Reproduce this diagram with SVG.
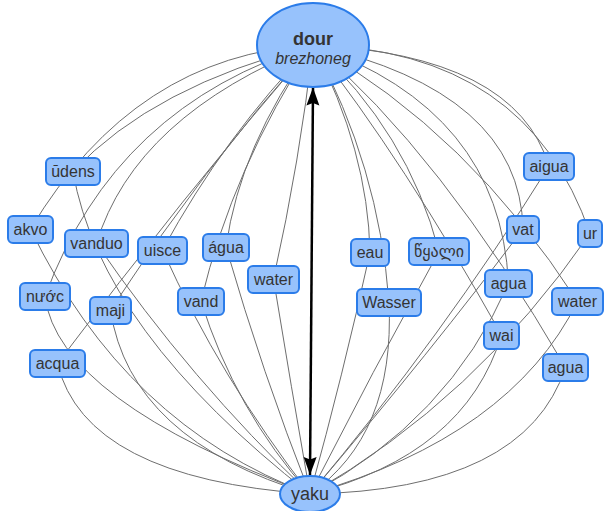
<svg xmlns="http://www.w3.org/2000/svg" width="605" height="511" viewBox="0 0 605 511">
<style>
.e{fill:none;stroke:#6e6e6e;stroke-width:1}
.box{fill:#97C2FC;stroke:#2B7CE9;stroke-width:2}
.t{font-family:"Liberation Sans","DejaVu Sans",Arial,sans-serif;font-size:16px;fill:#343434;text-anchor:middle}
.big{font-size:18px}
</style>
<defs>
<marker id="ah" markerUnits="userSpaceOnUse" viewBox="-19 -7 20 14" refX="0" refY="0" markerWidth="20" markerHeight="14" orient="auto-start-reverse">
<path d="M0,0 L-18,-6.5 L-15.5,0 L-18,6.5 Z" fill="#000"/>
</marker>
</defs>
<rect width="605" height="511" fill="#fff"/>
<g id="connectors">
<path class="e" d="M313,45 Q153,86 73,171.5"/>
<path class="e" d="M313,45 Q135,55 30.5,229"/>
<path class="e" d="M313,45 Q135,116 96.5,243.5"/>
<path class="e" d="M313,45 Q115,105 45,296.5"/>
<path class="e" d="M313,45 Q225,135 162.5,250"/>
<path class="e" d="M313,45 Q200,172 110.5,310"/>
<path class="e" d="M313,45 Q180,200 57.5,363.5"/>
<path class="e" d="M313,45 Q240,146 226,247"/>
<path class="e" d="M313,45 Q233,167 201,301"/>
<path class="e" d="M313,45 Q300,160 273.5,279"/>
<path class="e" d="M313,45 Q368,151 370,252.5"/>
<path class="e" d="M313,45 Q379,166 389,302.5"/>
<path class="e" d="M313,45 Q408,132 439,251.5"/>
<path class="e" d="M313,45 Q515,55 549,166"/>
<path class="e" d="M313,45 Q527,50 590,233.5"/>
<path class="e" d="M313,45 Q520,92 523,229"/>
<path class="e" d="M313,45 Q469,133 577.5,301.5"/>
<path class="e" d="M313,45 Q500,110 508.5,283.5"/>
<path class="e" d="M313,45 Q403,159 501.5,335"/>
<path class="e" d="M313,45 Q440,152 565.5,367.5"/>
<path class="e" d="M73,171.5 Q100,330 310,494"/>
<path class="e" d="M30.5,229 Q125,425 310,494"/>
<path class="e" d="M96.5,243.5 Q190,380 310,494"/>
<path class="e" d="M45,296.5 Q58,400 310,494"/>
<path class="e" d="M162.5,250 Q220,378 310,494"/>
<path class="e" d="M110.5,310 Q130,440 310,494"/>
<path class="e" d="M57.5,363.5 Q85,478 310,494"/>
<path class="e" d="M226,247 Q262,372 310,494"/>
<path class="e" d="M201,301 Q235,410 310,494"/>
<path class="e" d="M273.5,279 Q291,386 310,494"/>
<path class="e" d="M370,252.5 Q343,375 310,494"/>
<path class="e" d="M389,302.5 Q395,435 310,494"/>
<path class="e" d="M439,251.5 Q372,372 310,494"/>
<path class="e" d="M549,166 Q443,336 310,494"/>
<path class="e" d="M590,233.5 Q475,400 310,494"/>
<path class="e" d="M523,229 Q433,349 310,494"/>
<path class="e" d="M577.5,301.5 Q511,436 310,494"/>
<path class="e" d="M508.5,283.5 Q448,421 310,494"/>
<path class="e" d="M501.5,335 Q465,455 310,494"/>
<path class="e" d="M565.5,367.5 Q525,490 310,494"/>
<line x1="313" y1="87.5" x2="310" y2="475" stroke="#000" stroke-width="2.5" marker-start="url(#ah)" marker-end="url(#ah)"/>
</g>
<g id="dour"><ellipse cx="313" cy="45" rx="56" ry="42" class="box"/><text x="313" y="45" class="t big" font-weight="bold">dour</text><text x="313" y="64" class="t" font-style="italic">brezhoneg</text></g>
<g id="yaku"><ellipse cx="310" cy="494" rx="30" ry="18" class="box"/><text x="310" y="500" class="t big">yaku</text></g>
<g id="udens"><rect x="46" y="158" width="54" height="27" rx="5" class="box"/><text x="73" y="177" class="t">ūdens</text></g>
<g id="akvo"><rect x="8" y="216" width="45" height="27" rx="5" class="box"/><text x="30.5" y="235" class="t">akvo</text></g>
<g id="vanduo"><rect x="65" y="230" width="63" height="27" rx="5" class="box"/><text x="96.5" y="249" class="t">vanduo</text></g>
<g id="uisce"><rect x="138" y="237" width="49" height="27" rx="5" class="box"/><text x="162.5" y="256" class="t">uisce</text></g>
<g id="nuoc"><rect x="20" y="283" width="50" height="27" rx="5" class="box"/><text x="45" y="302" class="t">nước</text></g>
<g id="maji"><rect x="90" y="297" width="41" height="27" rx="5" class="box"/><text x="110.5" y="316" class="t">maji</text></g>
<g id="acqua"><rect x="30" y="350" width="55" height="27" rx="5" class="box"/><text x="57.5" y="369" class="t">acqua</text></g>
<g id="agua-pt"><rect x="203" y="234" width="46" height="27" rx="5" class="box"/><text x="226" y="253" class="t">água</text></g>
<g id="water-en"><rect x="248" y="266" width="51" height="27" rx="5" class="box"/><text x="273.5" y="285" class="t">water</text></g>
<g id="vand"><rect x="178" y="288" width="46" height="27" rx="5" class="box"/><text x="201" y="307" class="t">vand</text></g>
<g id="eau"><rect x="351" y="239" width="38" height="27" rx="5" class="box"/><text x="370" y="258" class="t">eau</text></g>
<g id="tskali"><rect x="409" y="238" width="60" height="27" rx="5" class="box"/><text x="439" y="257" class="t">წყალი</text></g>
<g id="wasser"><rect x="357" y="289" width="64" height="27" rx="5" class="box"/><text x="389" y="308" class="t">Wasser</text></g>
<g id="aigua"><rect x="524" y="153" width="50" height="27" rx="5" class="box"/><text x="549" y="172" class="t">aigua</text></g>
<g id="vat"><rect x="507" y="216" width="32" height="27" rx="5" class="box"/><text x="523" y="235" class="t">vat</text></g>
<g id="ur"><rect x="578" y="220" width="24" height="27" rx="5" class="box"/><text x="590" y="239" class="t">ur</text></g>
<g id="agua-1"><rect x="485" y="270" width="47" height="27" rx="5" class="box"/><text x="508.5" y="289" class="t">agua</text></g>
<g id="water-af"><rect x="552" y="288" width="51" height="27" rx="5" class="box"/><text x="577.5" y="307" class="t">water</text></g>
<g id="wai"><rect x="484" y="322" width="35" height="27" rx="5" class="box"/><text x="501.5" y="341" class="t">wai</text></g>
<g id="agua-2"><rect x="543" y="354" width="45" height="27" rx="5" class="box"/><text x="565.5" y="373" class="t">agua</text></g>
</svg>
